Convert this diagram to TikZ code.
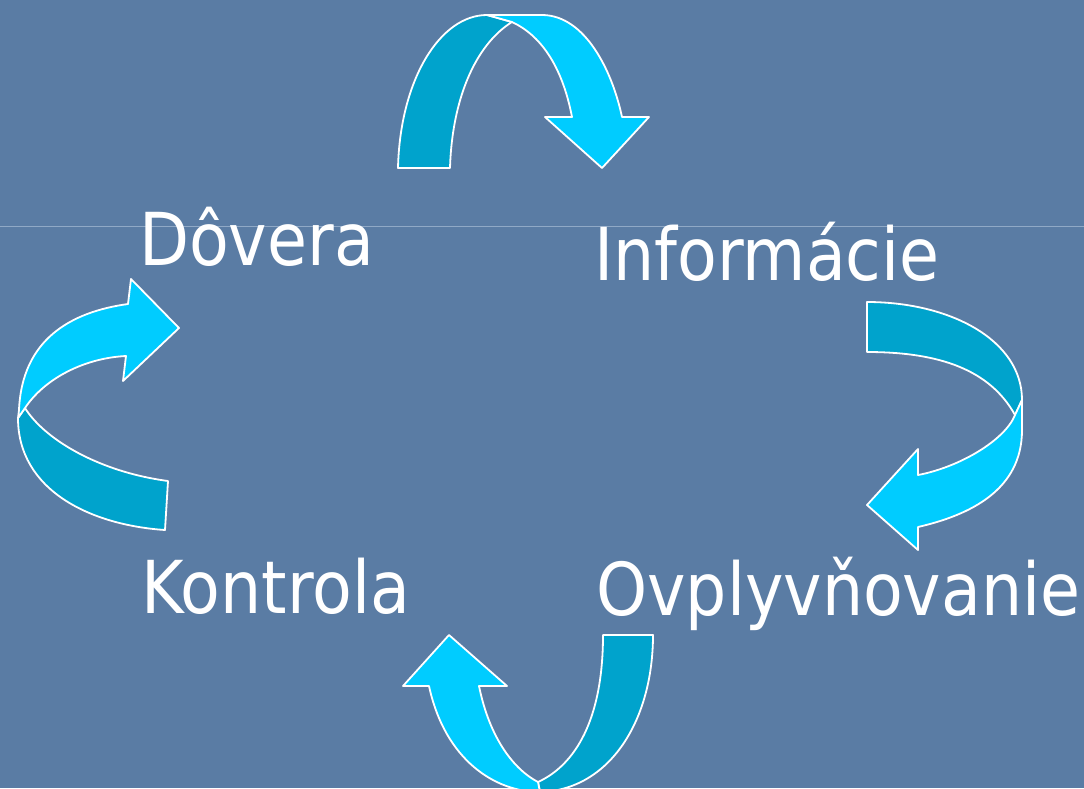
\documentclass[tikz,border=0pt]{standalone}
\usepackage{fontspec}
\setmainfont[FakeStretch=0.89]{DejaVu Sans}
\usepackage{tikz}
\definecolor{SlideBlue}{HTML}{5A7CA4}
\definecolor{SlideLine}{HTML}{90A9C6}
\definecolor{RibbonCyan}{HTML}{00CCFF}
\definecolor{RibbonTeal}{HTML}{00A3CC}
\begin{document}
\begin{tikzpicture}[x=1pt,y=-1pt,
    word/.style={anchor=base west,inner sep=0pt,text=white,
                 font=\fontsize{73}{80}\selectfont},
    band/.style={draw=white,line width=1.8pt,line join=round},
    front/.style={band,fill=RibbonCyan},
    back/.style={band,fill=RibbonTeal}]
    \fill[SlideBlue] (0,0) rectangle (1084,788);
    \useasboundingbox (0,0) rectangle (1084,788);
    \draw[SlideLine,line width=1pt] (0,226) -- (1084,226);
    \node[word] (dovera) at (139,265) {Dôvera};
    \node[word] (info) at (594,280) {Informácie};
    \node[word] (kontrola) at (141,613) {Kontrola};
    \node[word] (ovpl) at (596,615) {Ovplyvňovanie};
    \draw[back] (398,168) .. controls (400,80) and (440,15) .. (487,15)
        -- (512,22) .. controls (475,45) and (452,100) .. (450,168) -- cycle;
    \draw[front] (487,15) -- (543,15) .. controls (585,16) and (612,70) .. (622,117)
        -- (649,117) -- (602,168) -- (545,117) -- (572,117)
        .. controls (562,65) and (540,35) .. (512,22) -- cycle;
    \draw[back] (867,302) .. controls (950,302) and (1022,340) .. (1022,400)
        -- (1015,415) .. controls (990,370) and (940,352) .. (867,352) -- cycle;
    \draw[front] (1022,400) -- (1022,430) .. controls (1022,490) and (970,515) .. (918,527)
        -- (918,550) -- (867,505) -- (918,449) -- (918,475)
        .. controls (960,467) and (1005,440) .. (1015,415) -- cycle;
    \draw[back] (18,418) .. controls (18,490) and (90,525) .. (165,530)
        -- (168,481) .. controls (100,472) and (45,440) .. (25,408) -- cycle;
    \draw[front] (128,304) .. controls (70,312) and (22,340) .. (19,410) -- (18,418)
        -- (25,408) .. controls (45,378) and (85,358) .. (126,356)
        -- (123,381) -- (179,328) -- (131,279) -- cycle;
    \draw[back] (603,635) -- (653,635) .. controls (653,720) and (610,790) .. (540,792)
        -- (538,782) .. controls (575,765) and (603,720) .. (603,635) -- cycle;
    \draw[front] (449,635) -- (403,686) -- (429,686)
        .. controls (445,760) and (495,792) .. (540,792) -- (538,782)
        .. controls (515,770) and (490,740) .. (479,686) -- (507,686) -- cycle;
  \end{tikzpicture}
\end{document}
